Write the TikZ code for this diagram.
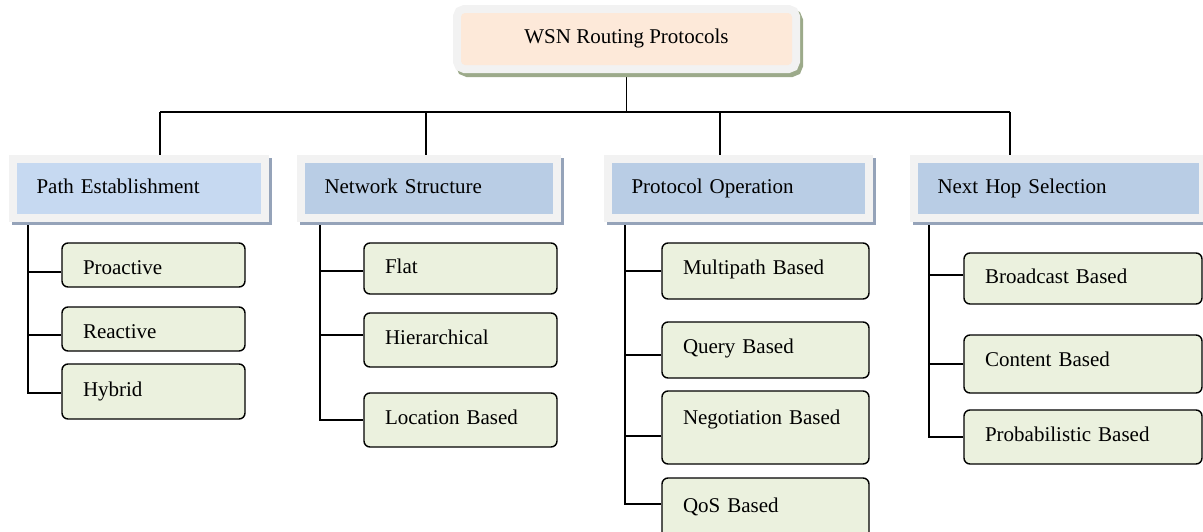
\documentclass[tikz,border=0pt]{standalone}
\usepackage{fontspec}
\setmainfont{Liberation Serif}
\definecolor{topfill}{HTML}{FDE9D9}
\definecolor{topshadow}{HTML}{9CAA8A}
\definecolor{framegray}{HTML}{F2F2F2}
\definecolor{catshadow}{HTML}{95A3B9}
\definecolor{catlight}{HTML}{C6D9F1}
\definecolor{catfill}{HTML}{B9CDE5}
\definecolor{childfill}{HTML}{EBF1DE}
\pgfdeclarelayer{bg}
\pgfsetlayers{bg,main}
\tikzset{
  txt/.style={font=\fontsize{21pt}{25pt}\selectfont, text height=14pt, text depth=5pt, inner ysep=0pt},
  topbox/.style={txt, fill=topfill, rounded corners=4pt, minimum width=331pt, minimum height=52pt,
    preaction={draw=topshadow, line width=16pt, rounded corners=4pt, transform canvas={shift={(3pt,-4pt)}}},
    preaction={draw=framegray, line width=16pt, rounded corners=4pt}},
  catbox/.style={txt, fill=#1, inner xsep=19.5pt, minimum height=51pt, align=left,
    preaction={draw=catshadow, line width=16pt, transform canvas={shift={(3pt,-3pt)}}},
    preaction={draw=framegray, line width=16pt}},
  childbox/.style={txt, fill=childfill, draw=black, line width=1.4pt, rounded corners=6pt, inner xsep=21pt, align=left},
  conn/.style={draw=black, line width=1.5pt}
}
\begin{document}
\begin{tikzpicture}[x=1pt,y=-1pt]
\useasboundingbox (0,0) rectangle (1203,531);

\node[topbox] (top) at (626.5,39) {WSN Routing Protocols};

\node[catbox=catlight, text width=205pt] (pe) at (139,188.5) {Path Establishment};
\node[catbox=catfill, text width=209pt] (ns) at (429,188.5) {Network Structure};
\node[catbox=catfill, text width=214pt] (po) at (738.5,188.5) {Protocol Operation};
\node[catbox=catfill, text width=242pt] (nh) at (1058.5,188.5) {Next Hop Selection};

\node[childbox, text width=141pt, minimum height=44pt, text height=19pt, text depth=0pt] (proactive) at (153.5,265) {Proactive};
\node[childbox, text width=141pt, minimum height=44pt, text height=19pt, text depth=0pt] (reactive) at (153.5,329) {Reactive};
\node[childbox, text width=141pt, minimum height=55pt] (hybrid) at (153.5,391.5) {Hybrid};

\node[childbox, text width=151pt, minimum height=51pt] (flat) at (460.5,268.5) {Flat};
\node[childbox, text width=151pt, minimum height=54pt] (hier) at (460.5,340) {Hierarchical};
\node[childbox, text width=151pt, minimum height=54pt] (loc) at (460.5,420) {Location Based};

\node[childbox, text width=165pt, minimum height=56pt, text depth=8pt] (multi) at (765.5,271) {Multipath Based};
\node[childbox, text width=165pt, minimum height=56pt, text depth=8pt] (query) at (765.5,350) {Query Based};
\node[childbox, text width=165pt, minimum height=73pt, text depth=20pt] (nego) at (765.5,427.5) {Negotiation Based};
\node[childbox, text width=165pt, minimum height=62pt, text depth=8pt] (qos) at (765.5,509) {QoS Based};

\node[childbox, text width=196pt, minimum height=51pt] (broad) at (1083,278.5) {Broadcast Based};
\node[childbox, text width=196pt, minimum height=58pt, text depth=10pt] (content) at (1083,364) {Content Based};
\node[childbox, text width=196pt, minimum height=54pt] (prob) at (1083,437) {Probabilistic Based};

\coordinate (bus) at (626.5,112);
\coordinate (d1) at (160,112);
\coordinate (d2) at (426,112);
\coordinate (d3) at (720,112);
\coordinate (d4) at (1010,112);
\coordinate (v1) at (28,214);
\coordinate (v2) at (320,214);
\coordinate (v3) at (625,214);
\coordinate (v4) at (929,214);

\begin{pgfonlayer}{bg}
\draw[conn] (top) -- (bus);
\draw[conn] (d1) -- (d4);
\draw[conn] (d1) -- (d1 |- pe.north);
\draw[conn] (d2) -- (d2 |- ns.north);
\draw[conn] (d3) -- (d3 |- po.north);
\draw[conn] (d4) -- (d4 |- nh.north);

\draw[conn] (v1) |- ([yshift=-1.5pt]hybrid.west);
\draw[conn] ([yshift=-7pt]proactive.west) -| (v1);
\draw[conn] ([yshift=-6pt]reactive.west) -| (v1);

\draw[conn] (v2) |- (loc.west);
\draw[conn] ([yshift=-2.5pt]flat.west) -| (v2);
\draw[conn] ([yshift=5pt]hier.west) -| (v2);

\draw[conn] (v3) |- ([yshift=5pt]qos.west);
\draw[conn] (multi.west) -| (v3);
\draw[conn] ([yshift=-5pt]query.west) -| (v3);
\draw[conn] ([yshift=-8.5pt]nego.west) -| (v3);

\draw[conn] (v4) |- (prob.west);
\draw[conn] ([yshift=3.5pt]broad.west) -| (v4);
\draw[conn] (content.west) -| (v4);
\end{pgfonlayer}
\end{tikzpicture}
\end{document}
